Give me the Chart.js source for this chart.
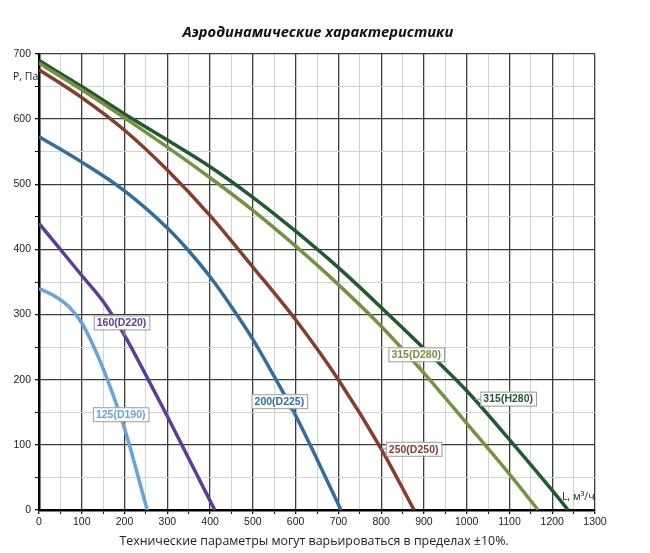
<!DOCTYPE html>
<html>
<head>
<meta charset="utf-8">
<script src="https://cdn.jsdelivr.net/npm/chart.js@4"></script>
<style>
  body { margin: 0; background: #fff; }
  #wrap { width: 650px; height: 553px; position: relative; }
</style>
</head>
<body>
<div id="wrap"><canvas id="myChart" width="650" height="553"></canvas></div>
<script>
// flow, m3/h  /  pressure, Pa
const flow125 = [0, 40, 70, 100, 130, 160, 200, 253];
const pres125 = [340, 327, 312, 287, 248, 200, 125, 0];

const flow160 = [0, 50, 100, 150, 200, 250, 300, 350, 411];
const pres160 = [440, 400, 360, 320, 268, 207, 144, 79, 0];

const flow200 = [0, 100, 200, 300, 350, 400, 450, 500, 550, 600, 650, 706];
const pres200 = [573, 534, 490, 433, 398, 358, 312, 262, 205, 145, 78, 0];

const flow250 = [0, 100, 200, 300, 400, 500, 600, 700, 800, 877];
const pres250 = [676, 633, 583, 522, 452, 373, 292, 200, 94, 0];

const flow280 = [0, 100, 200, 300, 400, 500, 600, 700, 800, 900, 1000, 1100, 1167];
const pres280 = [686, 645, 602, 557, 510, 460, 405, 346, 282, 210, 133, 55, 0];

const flowH280 = [0, 100, 200, 300, 400, 500, 600, 700, 800, 900, 1000, 1100, 1200, 1237];
const presH280 = [690, 650, 608, 568, 527, 480, 428, 372, 311, 248, 183, 108, 30, 0];

const seriesNames = ['125(D190)', '160(D220)', '200(D225)', '250(D250)', '315(D280)', '315(H280)'];
const seriesColors = ['#66a3e0', '#5b3d9e', '#316ca2', '#8b3b2b', '#76923c', '#1f5a30'];
const xTicks = [0, 100, 200, 300, 400, 500, 600, 700, 800, 900, 1000, 1100, 1200, 1300];
const yTicks = [0, 100, 200, 300, 400, 500, 600, 700];

const flows = [flow125, flow160, flow200, flow250, flow280, flowH280];
const press = [pres125, pres160, pres200, pres250, pres280, presH280];

// callout boxes: point on curve and box centre, in data units
const callouts = [
  { s: 0, at: [201, 123], box: [191, 147] },
  { s: 1, at: [201, 267], box: [193, 288] },
  { s: 2, at: [598, 148], box: [562, 167] },
  { s: 3, at: [800, 94],  box: [876, 94] },
  { s: 4, at: [898, 212], box: [882, 239] },
  { s: 5, at: [1019, 170], box: [1097, 171] }
];

const datasets = seriesNames.map((name, i) => ({
  label: name,
  data: flows[i].map((x, j) => ({ x: x, y: press[i][j] })),
  borderColor: seriesColors[i],
  borderWidth: 3.5,
  pointRadius: 0,
  fill: false,
  cubicInterpolationMode: 'monotone'
}));

const textPlugin = {
  id: 'texts',
  afterDraw(chart) {
    const c = chart.ctx;
    const xs = chart.scales.x, ys = chart.scales.y;
    c.save();
    c.fillStyle = '#111';
    c.textAlign = 'center';
    c.textBaseline = 'middle';
    c.font = 'italic bold 14.7px "Open Sans"';
    c.fillText('Аэродинамические характеристики', 318, 33);
    c.font = '12.4px "Open Sans"';
    c.fillStyle = '#222';
    c.fillText('Технические параметры могут варьироваться в пределах ±10%.', 314, 541);
    c.font = '10.5px "Open Sans"';
    c.textAlign = 'left';
    c.fillText('P, Па', 13, 77);
    c.fillText('L, м³/ч', 562, 497);

    // curve labels
    c.font = 'bold 10.5px "Liberation Sans"';
    callouts.forEach(o => {
      const ax = xs.getPixelForValue(o.at[0]), ay = ys.getPixelForValue(o.at[1]);
      const bx = xs.getPixelForValue(o.box[0]), by = ys.getPixelForValue(o.box[1]);
      const txt = seriesNames[o.s];
      const w = c.measureText(txt).width + 6, h = 14;
      c.strokeStyle = '#9a9a9a';
      c.lineWidth = 1;
      c.beginPath();
      c.moveTo(ax, ay);
      c.lineTo(bx, by);
      c.stroke();
      c.fillStyle = '#fff';
      c.fillRect(bx - w / 2, by - h / 2, w, h);
      c.strokeRect(bx - w / 2 + 0.5, by - h / 2 + 0.5, w, h);
      c.fillStyle = seriesColors[o.s];
      c.textAlign = 'center';
      c.fillText(txt, bx, by + 1);
    });
    c.restore();
  }
};

const isMajor = v => v % 100 === 0;

new Chart(document.getElementById('myChart'), {
  type: 'line',
  data: { datasets: datasets },
  options: {
    responsive: false,
    animation: false,
    layout: { padding: { top: 54, right: 55, left: 0, bottom: 0 } },
    plugins: { legend: { display: false }, tooltip: { enabled: false } },
    scales: {
      x: {
        type: 'linear',
        min: 0, max: 1300,
        afterFit(s) { s.height = 43; },
        afterBuildTicks(s) {
          const t = [];
          for (let v = 0; v <= 1300; v += 50) t.push({ value: v });
          s.ticks = t;
        },
        ticks: {
          padding: 2,
          maxRotation: 0,
          autoSkip: false,
          color: '#222',
          font: { family: 'Liberation Sans', size: 10.5 },
          callback: v => xTicks.includes(v) ? v : ''
        },
        grid: {
          color: ctx => isMajor(ctx.tick.value) ? '#3c3c3c' : '#d2d2d2',
          lineWidth: ctx => isMajor(ctx.tick.value) ? 1.3 : 1,
          tickColor: '#111',
          tickLength: 4
        },
        border: { color: '#000', width: 2.5 }
      },
      y: {
        min: 0, max: 700,
        afterFit(s) { s.width = 39; },
        afterBuildTicks(s) {
          const t = [];
          for (let v = 0; v <= 700; v += 50) t.push({ value: v });
          s.ticks = t;
        },
        ticks: {
          padding: 4,
          autoSkip: false,
          color: '#222',
          font: { family: 'Liberation Sans', size: 10.5 },
          callback: v => yTicks.includes(v) ? v : ''
        },
        grid: {
          color: ctx => isMajor(ctx.tick.value) ? '#3c3c3c' : '#d2d2d2',
          lineWidth: ctx => isMajor(ctx.tick.value) ? 1.3 : 1,
          tickColor: '#111',
          tickLength: 4
        },
        border: { color: '#000', width: 2.5 }
      }
    }
  },
  plugins: [textPlugin]
});
</script>
</body>
</html>
